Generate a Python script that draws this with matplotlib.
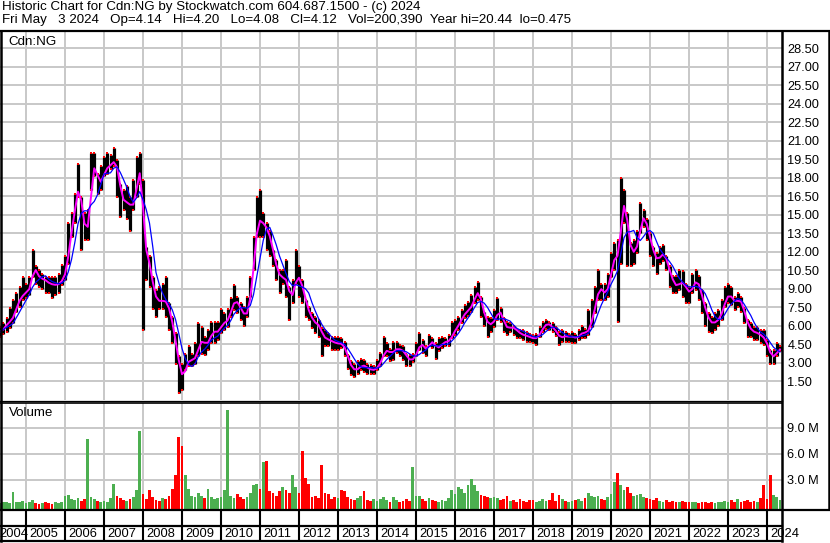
import matplotlib
matplotlib.use("Agg")
import matplotlib.pyplot as plt
import matplotlib.transforms as mtransforms
import numpy as np
import pandas as pd

plt.rcParams['font.family'] = ['Liberation Sans', 'DejaVu Sans']

W, H = 830, 543
FS = 9.2       # tick labels
FSH = 9.6      # panel labels
FSHEAD = 9.6   # header lines
FSY = 9.3      # year labels

# ---------------- data (monthly, May 2004 .. May 2024) ----------------
start_month = 4          # months since Jan 2004 (4 = May 2004)
years = list(range(2004, 2025))

hi = [5.9, 6.2, 6.6, 7.4, 8.1, 8.6, 9.15, 9.95,
      9.4, 9.95, 12.1, 10.8, 10.5, 10.2, 9.95, 9.95, 9.95, 9.95, 10.2, 10.9,
      11.6, 14.3, 15.1, 16.7, 19.1, 16.4, 15.1, 15.4, 20.0, 20.0, 18.3, 18.9,
      19.7, 20.0, 19.8, 20.4, 19.4, 17.5, 17.0, 17.3, 16.4, 17.8, 19.7, 19.95,
      17.8, 12.4, 11.6, 9.95, 8.9, 9.15, 9.4, 9.95, 7.8, 6.7, 5.4, 3.5,
      2.9, 3.7, 4.3, 3.7, 4.55, 6.2, 5.9, 5.1, 5.6, 6.3, 6.3, 6.3,
      7.3, 7.0, 7.3, 8.2, 9.3, 8.3, 7.8, 7.5, 8.3, 9.95, 13.2, 16.4,
      17.0, 15.1, 14.3, 13.7, 12.1, 11.3, 10.5, 10.5, 11.3, 9.15, 9.7, 12.1,
      10.8, 9.7, 8.1, 7.5, 7.0, 6.7, 6.45, 5.8, 5.6, 5.4, 5.1, 5.1,
      5.1, 4.95, 4.7, 3.6, 3.1, 2.9, 3.1, 3.3, 3.2, 2.9, 2.8, 2.7,
      3.2, 3.75, 5.1, 4.55, 4.1, 4.7, 4.7, 4.4, 4.3, 3.7, 3.6, 3.7,
      4.55, 5.4, 4.8, 4.3, 5.2, 5.0, 4.55, 4.95, 5.1, 4.95, 5.2, 6.3,
      6.45, 6.7, 7.25, 7.7, 7.9, 8.5, 9.15, 9.55, 8.3, 7.1, 6.7, 6.6,
      7.25, 8.2, 7.4, 6.6, 6.3, 6.2, 6.0, 5.75, 5.6, 5.6, 5.5, 5.35,
      5.2, 5.35, 5.9, 6.3, 6.45, 6.3, 6.2, 5.9, 5.5, 5.6, 5.5, 5.35,
      5.5, 5.35, 5.6, 6.0, 5.75, 7.25, 8.1, 9.15, 10.5, 9.4, 9.4, 10.2,
      11.85, 12.7, 12.9, 18.0, 17.0, 15.1, 12.7, 12.9, 13.7, 15.9, 15.4, 14.6,
      13.5, 12.4, 11.85, 12.4, 12.5, 11.6, 10.8, 10.0, 10.0, 10.5, 10.4, 9.4,
      9.15, 10.2, 10.5, 10.0, 8.9, 7.8, 7.0, 6.7, 7.0, 7.25, 8.1, 9.15,
      9.4, 9.15, 8.3, 8.6, 8.3, 7.4, 6.45, 6.2, 5.9, 5.9, 5.6, 5.6,
      4.8, 4.0, 4.0, 4.55, 4.3]

lo = [5.1, 5.3, 5.5, 5.8, 6.2, 7.1, 7.5, 8.1,
      8.2, 8.5, 9.95, 9.4, 9.15, 9.0, 8.6, 8.6, 8.2, 8.5, 8.6, 9.3,
      9.7, 11.0, 13.2, 14.3, 16.4, 12.1, 12.9, 12.9, 17.0, 18.1, 16.7, 17.0,
      18.1, 18.3, 18.7, 18.9, 16.4, 14.8, 15.4, 14.6, 13.7, 15.4, 16.4, 17.5,
      5.6, 9.7, 9.15, 7.3, 6.7, 7.3, 7.3, 6.7, 5.6, 4.55, 2.9, 0.5,
      0.8, 2.4, 2.7, 2.7, 2.9, 3.5, 3.7, 3.6, 4.0, 4.55, 4.55, 4.8,
      5.4, 5.6, 5.9, 6.7, 7.25, 7.0, 6.45, 6.0, 6.7, 8.3, 10.5, 13.2,
      13.2, 13.2, 12.1, 11.6, 10.8, 9.7, 8.6, 9.4, 8.3, 6.45, 7.8, 9.4,
      8.3, 7.8, 6.7, 6.45, 5.8, 5.4, 5.1, 3.5, 4.3, 4.3, 4.0, 4.0,
      4.0, 4.15, 3.5, 2.5, 2.0, 1.85, 2.1, 2.4, 2.25, 2.1, 2.05, 2.1,
      2.4, 2.7, 3.5, 3.5, 3.1, 3.2, 3.75, 3.5, 3.2, 2.7, 2.7, 3.07,
      3.5, 4.0, 3.75, 3.5, 4.3, 4.15, 3.3, 3.9, 4.2, 4.3, 4.3, 4.95,
      5.2, 5.6, 6.2, 6.6, 6.8, 7.1, 7.8, 8.1, 6.7, 6.0, 5.1, 5.5,
      5.9, 6.45, 6.3, 5.5, 5.2, 5.5, 5.2, 5.0, 4.95, 4.8, 4.7, 4.7,
      4.55, 4.4, 5.1, 5.5, 5.75, 5.6, 5.5, 5.15, 4.4, 4.7, 4.7, 4.7,
      4.55, 4.55, 4.8, 4.95, 4.95, 5.2, 5.9, 7.0, 8.1, 8.1, 8.1, 8.3,
      9.95, 10.5, 6.3, 11.0, 14.3, 10.8, 10.8, 11.0, 11.85, 13.5, 14.0, 12.9,
      11.6, 10.8, 10.2, 11.0, 11.2, 10.5, 9.15, 8.6, 8.6, 8.9, 8.3, 7.8,
      7.8, 8.6, 8.9, 8.1, 7.0, 6.0, 5.5, 5.4, 5.6, 6.0, 6.45, 7.5,
      7.8, 7.7, 7.25, 7.5, 7.1, 6.2, 5.1, 5.1, 4.8, 4.8, 4.55, 4.4,
      3.5, 2.9, 2.9, 3.5, 3.9]

cl = [5.5, 5.85, 6.2, 6.4, 6.85, 7.8, 8.2, 8.6,
      8.75, 9.15, 10.8, 10.2, 9.8, 9.8, 9.55, 9.4, 9.3, 9.3, 9.4, 9.8,
      10.5, 12.7, 14.3, 16.2, 17.5, 14.8, 13.7, 14.3, 18.6, 18.9, 17.5, 17.8,
      18.6, 18.9, 19.1, 19.4, 18.3, 16.4, 16.0, 16.0, 15.6, 16.0, 18.1, 18.6,
      12.7, 11.6, 10.5, 8.6, 8.1, 7.9, 8.1, 7.8, 7.0, 5.6, 4.0, 2.4,
      1.7, 2.9, 3.2, 3.2, 3.5, 4.55, 4.8, 4.4, 4.8, 5.5, 5.5, 5.5,
      6.2, 6.2, 6.6, 7.5, 8.1, 7.7, 7.25, 6.7, 7.25, 9.15, 12.1, 14.7,
      14.3, 14.3, 13.6, 12.9, 11.4, 10.5, 9.8, 10.0, 9.4, 8.2, 8.75, 10.2,
      9.55, 8.9, 7.5, 7.0, 6.3, 6.2, 5.9, 5.1, 4.95, 4.8, 4.7, 4.55,
      4.55, 4.5, 4.0, 3.1, 2.5, 2.4, 2.5, 2.8, 2.7, 2.5, 2.4, 2.4,
      2.7, 3.2, 3.9, 4.0, 3.7, 4.0, 4.15, 4.0, 3.9, 3.3, 3.2, 3.3,
      3.9, 4.55, 4.3, 3.95, 4.7, 4.6, 4.15, 4.3, 4.6, 4.7, 4.75, 5.35,
      5.75, 6.2, 6.7, 7.1, 7.3, 7.7, 8.5, 8.75, 7.5, 6.6, 6.0, 6.2,
      6.45, 7.25, 6.85, 6.0, 5.75, 5.9, 5.75, 5.5, 5.3, 5.2, 5.15, 5.0,
      4.95, 5.0, 5.5, 5.9, 6.2, 6.0, 5.75, 5.4, 4.95, 5.15, 5.1, 5.1,
      5.1, 4.95, 5.2, 5.5, 5.35, 5.8, 6.7, 7.9, 9.15, 8.75, 8.6, 9.3,
      10.9, 11.7, 11.6, 15.5, 15.9, 13.2, 11.85, 12.1, 12.7, 14.6, 14.8, 13.7,
      12.7, 11.6, 11.3, 11.7, 11.85, 11.0, 10.1, 9.4, 9.15, 9.55, 9.4, 8.9,
      8.6, 9.3, 9.7, 9.0, 7.9, 7.0, 6.3, 6.2, 6.3, 6.6, 7.25, 8.2,
      8.5, 8.2, 7.8, 8.2, 7.7, 6.7, 5.9, 5.6, 5.4, 5.4, 5.1, 4.95,
      4.15, 3.5, 3.5, 4.0, 4.12]

vol = [0.3, 0.4, 0.5, 0.3, 1.6, 0.5, 0.4, 0.6,
       0.3, 0.5, 0.7, 0.3, 0.2, 0.3, 0.4, 0.3, 0.2, 0.5, 0.3, 0.4,
       1.1, 1.3, 0.8, 0.7, 0.9, 0.6, 0.8, 7.7, 1.0, 0.8, 0.6, 0.5,
       0.6, 0.5, 0.9, 2.5, 1.2, 0.9, 0.7, 0.6, 0.8, 1.0, 1.8, 8.6,
       1.4, 0.8, 1.8, 1.0, 0.7, 0.6, 0.9, 0.8, 1.2, 2.0, 3.6, 8.0,
       6.9, 3.6, 2.0, 1.2, 1.0, 1.5, 1.2, 0.9, 2.0, 1.0, 0.8, 0.9,
       1.0, 1.8, 11.1, 1.2, 0.9, 1.4, 1.0, 0.8, 1.0, 1.5, 2.4, 2.5,
       1.9, 5.1, 5.2, 1.7, 1.5, 1.2, 1.7, 2.2, 1.8, 1.5, 3.6, 2.2,
       1.5, 6.3, 3.2, 2.5, 1.0, 1.2, 0.9, 4.7, 1.5, 1.4, 0.8, 1.0,
       0.9, 1.8, 1.7, 1.0, 0.8, 0.7, 0.9, 1.2, 1.7, 0.7, 0.6, 0.8,
       0.6, 0.8, 1.0, 0.7, 0.5, 1.0, 0.7, 0.5, 0.6, 0.8, 0.6, 4.5,
       1.1, 1.2, 0.8, 0.6, 0.9, 0.7, 0.6, 0.5, 0.7, 0.6, 0.9, 1.8,
       1.4, 2.2, 2.0, 1.5, 2.4, 3.1, 2.4, 1.7, 1.3, 1.1, 1.0, 0.9,
       1.0, 0.9, 0.7, 0.8, 1.2, 0.6, 0.7, 0.5, 0.8, 0.6, 0.5, 0.7,
       0.7, 0.5, 0.6, 0.8, 0.6, 0.7, 1.5, 0.6, 1.3, 0.8, 0.6, 0.5,
       0.6, 0.7, 0.8, 0.6, 0.9, 1.5, 1.2, 1.0, 1.1, 0.8, 0.7, 1.0,
       1.4, 2.8, 3.8, 2.4, 1.8, 2.2, 1.5, 1.2, 1.3, 1.4, 1.0, 0.9,
       0.8, 0.7, 0.9, 0.6, 0.5, 0.7, 0.5, 0.6, 0.4, 0.5, 0.6, 0.4,
       0.4, 0.5, 0.4, 0.3, 0.4, 0.5, 0.3, 0.4, 0.3, 0.5, 0.4, 0.6,
       0.4, 0.7, 0.5, 0.8, 0.5, 0.6, 0.7, 0.5, 0.6, 0.5, 0.9, 2.4,
       0.8, 3.6, 1.3, 1.0, 0.7]

price_ticks = np.arange(1.5, 29.0, 1.5)
vol_ticks = [3, 6, 9]

header1 = "Historic Chart for Cdn:NG by Stockwatch.com 604.687.1500 - (c) 2024"
header2 = ("Fri May   3 2024   Op=4.14   Hi=4.20   Lo=4.08   Cl=4.12   "
           "Vol=200,390  Year hi=20.44  lo=0.475")

# ---------------- derived ----------------
m = np.arange(start_month, start_month + len(cl))
s_cl = pd.Series(cl)
ma_short = s_cl.rolling(2, min_periods=1).mean()
ma_long = s_cl.rolling(5, min_periods=1).mean()
chg = np.diff(np.r_[cl[0], cl])
vcol = np.where(chg >= 0, '#4caf50', '#ff0000')
year_starts = [12 * (y - 2004) for y in years]

GRID = '#c8c8c8'
XL = (4.0, (782 + 13) / 3.25)


def rect(x0, y0, x1, y1):
    return [x0 / W, 1 - y1 / H, (x1 - x0) / W, (y1 - y0) / H]


fig = plt.figure(figsize=(W / 100, H / 100), dpi=100)
fig.patch.set_facecolor('white')

# ---------------- price panel ----------------
ax = fig.add_axes(rect(0, 32, 782, 400))
ax.set_xlim(*XL)
ax.set_ylim(-0.04, 29.8)
ax.set_xticks([ys for ys in year_starts if ys > XL[0]])
ax.set_yticks(price_ticks)
ax.grid(True, color=GRID, lw=1.4)
ax.set_axisbelow(True)
ax.tick_params(axis='x', length=0, labelbottom=False)
ax.yaxis.tick_right()
ax.tick_params(axis='y', length=0, pad=3.8, labelsize=FS)
ax.set_yticklabels([f"{t:.2f}" for t in price_ticks])
for sp in ax.spines.values():
    sp.set_visible(False)

ax.vlines(m, lo, hi, color='black', lw=2.3, zorder=3)
ax.plot(m, hi, 's', color='red', ms=1.8, mew=0, zorder=4)
ax.plot(m, lo, 's', color='red', ms=1.8, mew=0, zorder=4)
ax.plot(m, ma_short, color='#ff00ff', lw=1.4, zorder=5)
ax.plot(m, ma_long, color='#0000ff', lw=0.9, zorder=6)

# ---------------- volume panel ----------------
axv = fig.add_axes(rect(0, 403, 782, 509))
axv.set_xlim(*XL)
axv.set_ylim(-0.35, 11.88)
axv.set_xticks([ys for ys in year_starts if ys > XL[0]])
axv.set_yticks(vol_ticks)
axv.grid(True, color=GRID, lw=1.4)
axv.set_axisbelow(True)
axv.tick_params(axis='x', length=0, labelbottom=False)
axv.yaxis.tick_right()
axv.tick_params(axis='y', length=0, pad=3.8, labelsize=FS)
axv.set_yticklabels([f"{t:.1f} M" for t in vol_ticks])
for sp in axv.spines.values():
    sp.set_visible(False)
axv.bar(m, np.array(vol) + 0.35, bottom=-0.35, width=0.85, color=vcol,
        linewidth=0, zorder=3)

# ---------------- date strip ----------------
axs = fig.add_axes(rect(0, 510, 782, 541))
axs.set_xlim(*XL)
axs.set_ylim(0, 1)
axs.axis('off')
for ys in year_starts:
    if ys > XL[0]:
        axs.axvline(ys, color='black', lw=1.5)
btrans = mtransforms.blended_transform_factory(axs.transData, axs.transAxes)
for y, ys in zip(years, year_starts):
    if ys > XL[0]:
        tr = mtransforms.offset_copy(btrans, fig=fig, x=3, y=0, units='dots')
        axs.text(ys, 0.24, str(y), transform=tr, fontsize=FSY,
                 va='center', ha='left', clip_on=False)
    else:
        tr = mtransforms.offset_copy(axs.transAxes, fig=fig, x=-1, y=0,
                                     units='dots')
        axs.text(0, 0.24, str(y), transform=tr, fontsize=FSY,
                 va='center', ha='left', clip_on=False)

# ---------------- overlay: frame + header ----------------
ov = fig.add_axes([0, 0, 1, 1])
ov.set_xlim(0, W)
ov.set_ylim(H, 0)
ov.axis('off')
ov.patch.set_alpha(0)
K = 'black'
ov.plot([0, W], [31, 31], color=K, lw=1.6)
ov.plot([782, 782], [31, 541], color=K, lw=1.8)
ov.plot([829, 829], [31, 509], color=K, lw=1.8)
ov.plot([1, 1], [31, 541], color=K, lw=1.8)
ov.plot([0, 782], [401, 401], color=K, lw=0.9)
ov.plot([0, 782], [403, 403], color=K, lw=1.2)
ov.plot([0, 829], [509.5, 509.5], color=K, lw=1.6)
ov.plot([0, 782], [526, 526], color=K, lw=1.6)
ov.plot([0, 782], [541, 541], color=K, lw=1.6)
ov.text(2, 7, header1, fontsize=FSHEAD, va='center', ha='left')
ov.text(2, 19.5, header2, fontsize=FSHEAD, va='center', ha='left')
ov.text(8, 42, "Cdn:NG", fontsize=FSH, va='center', ha='left')
ov.text(9, 413, "Volume", fontsize=FSH, va='center', ha='left')

fig.savefig('out.png', dpi=100, facecolor='white')
